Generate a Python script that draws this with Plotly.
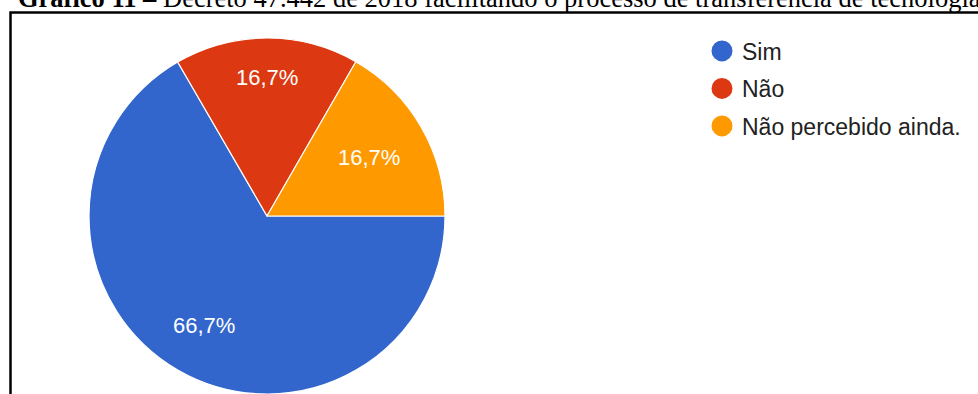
import math
import plotly.graph_objects as go

# Data
categories = ["Sim", "Não", "Não percebido ainda."]
percentages = [66.7, 16.7, 16.7]
colors = ["#3366cc", "#dc3912", "#ff9900"]
title_bold = "Gráfico 11 –"
title_rest = " Decreto 47.442 de 2018 facilitando o processo de transferência de tecnologia"

W, H = 978, 394
cx, cy, r = 267, 216, 178          # pie centre / radius in pixels
start_deg = 90                     # first slice starts at 3 o'clock
label_r_frac = [0.71, 0.78, 0.66]  # radial placement of the slice labels

fig = go.Figure()

fig.add_trace(go.Pie(
    labels=categories,
    values=percentages,
    sort=False,
    direction="clockwise",
    rotation=start_deg,
    marker=dict(colors=colors, line=dict(color="white", width=1.2)),
    textinfo="none",
    showlegend=False,
    hoverinfo="label+percent",
    domain=dict(x=[(cx - r) / W, (cx + r) / W],
                y=[(H - cy - r) / H, (H - cy + r) / H]),
))

# slice labels at the middle angle of each slice
total = sum(percentages)
cum = 0.0
annotations = []
for val, frac in zip(percentages, label_r_frac):
    mid = start_deg + (cum + val / 2) / total * 360.0   # clockwise from 12 o'clock
    cum += val
    a = math.radians(mid)
    px = cx + frac * r * math.sin(a)
    py = cy - frac * r * math.cos(a)
    annotations.append(dict(
        x=px / W, y=1 - py / H, xref="paper", yref="paper",
        text=f"{val:.1f}%".replace(".", ","), showarrow=False,
        xanchor="center", yanchor="middle",
        font=dict(family="Liberation Sans, Arial", size=22, color="white"),
    ))

for i, (cat, col) in enumerate(zip(categories, colors)):
    fig.add_trace(go.Scatter(
        x=[None], y=[None], mode="markers", name=cat,
        legendgroup=f"g{i}",
        marker=dict(symbol="circle", size=16, color=col,
                    line=dict(color=col, width=5)),
        showlegend=True,
    ))

fig.update_layout(
    width=W, height=H,
    margin=dict(l=0, r=0, t=0, b=0),
    paper_bgcolor="white",
    plot_bgcolor="white",
    separators=",.",
    xaxis=dict(visible=False),
    yaxis=dict(visible=False),
    title=dict(
        text=f"<b>{title_bold}</b>{title_rest}",
        font=dict(family="Liberation Serif, Times New Roman", size=26.5, color="black"),
        x=18 / W, xref="container", xanchor="left",
        y=1 - 7 / H, yref="container", yanchor="bottom",
    ),
    legend=dict(
        x=702 / W, xanchor="left",
        y=1 - 29.5 / H, yanchor="top",
        bgcolor="rgba(0,0,0,0)",
        font=dict(family="Liberation Sans, Arial", size=23, color="#222222"),
        tracegroupgap=4.6,
    ),
    annotations=annotations,
    shapes=[dict(
        type="rect", xref="paper", yref="paper",
        x0=10.5 / W, x1=1.2, y0=-0.2, y1=1 - 12.5 / H,
        line=dict(color="black", width=2.5),
        layer="below",
    )],
)

fig.write_html("out.html", config={"displayModeBar": False},
               post_script="document.body.style.margin='0';")
